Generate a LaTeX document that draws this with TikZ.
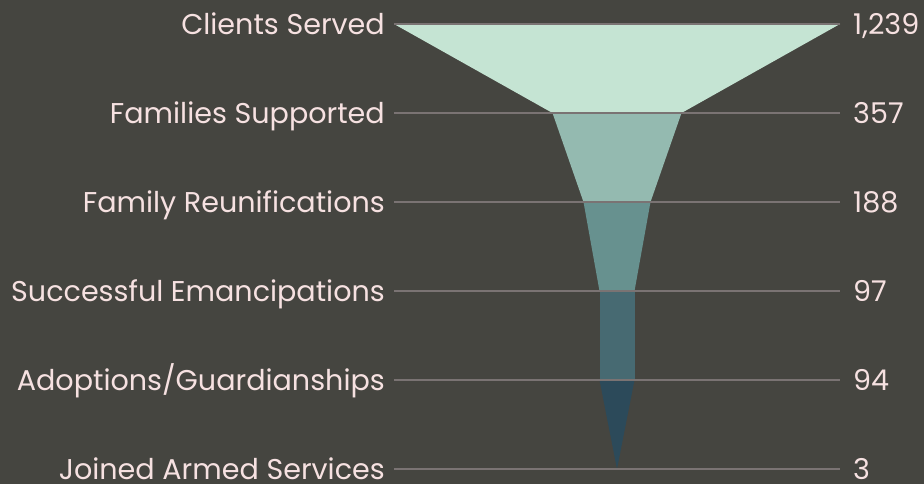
\documentclass[tikz,border=0pt]{standalone}
\usepackage{fontspec}
\setmainfont{Poppins}
\definecolor{bg}{HTML}{454540}
\definecolor{rule}{HTML}{7A7373}
\definecolor{txt}{HTML}{F6E1E1}
\definecolor{fa}{HTML}{C5E4D3}
\definecolor{fb}{HTML}{94BAB0}
\definecolor{fc}{HTML}{67918F}
\definecolor{fd}{HTML}{476A72}
\definecolor{fe}{HTML}{2C4A5A}
\begin{document}
\begin{tikzpicture}[x=1pt,y=-1pt,
  lab/.style={anchor=base east,inner sep=0pt,text=txt,font=\fontsize{28.6}{30}\selectfont},
  num/.style={anchor=base west,inner sep=0pt,text=txt,font=\fontsize{28.6}{30}\selectfont},
  rulel/.style={draw=rule,line width=1.4pt}]
\fill[bg] (0,0) rectangle (924,484);
\useasboundingbox (0,0) rectangle (924,484);
% funnel
\fill[fa] (394,24) -- (840,24) -- (681.5,113) -- (552.5,113) -- cycle;
\fill[fb] (552.5,113) -- (681.5,113) -- (650.5,202) -- (583.5,202) -- cycle;
\fill[fc] (583.5,202) -- (650.5,202) -- (634.5,291) -- (599.5,291) -- cycle;
\fill[fd] (599.5,291) -- (634.5,291) -- (634.5,380) -- (599.5,380) -- cycle;
\fill[fe] (599.5,380) -- (634.5,380) -- (617,469) -- cycle;
% rules
\foreach \i/\y in {1/24,2/113,3/202,4/291,5/380,6/469}{
  \coordinate (L\i) at (394,\y);
  \coordinate (R\i) at (840,\y);
  \draw[rulel] (L\i) -- (R\i);
}
% labels
\node[lab] (l1) at (385,34.5) {Clients Served};
\node[lab] (l2) at (385,123.5) {Families Supported};
\node[lab] (l3) at (385,212.5) {Family Reunifications};
\node[lab] (l4) at (385,301.5) {Successful Emancipations};
\node[lab] (l5) at (385,390.5) {Adoptions/Guardianships};
\node[lab] (l6) at (385,479.5) {Joined Armed Services};
\node[num] (n1) at (853,34.5) {1,239};
\node[num] (n2) at (853,123.5) {357};
\node[num] (n3) at (853,212.5) {188};
\node[num] (n4) at (853,301.5) {97};
\node[num] (n5) at (853,390.5) {94};
\node[num] (n6) at (853,479.5) {3};
\end{tikzpicture}
\end{document}
